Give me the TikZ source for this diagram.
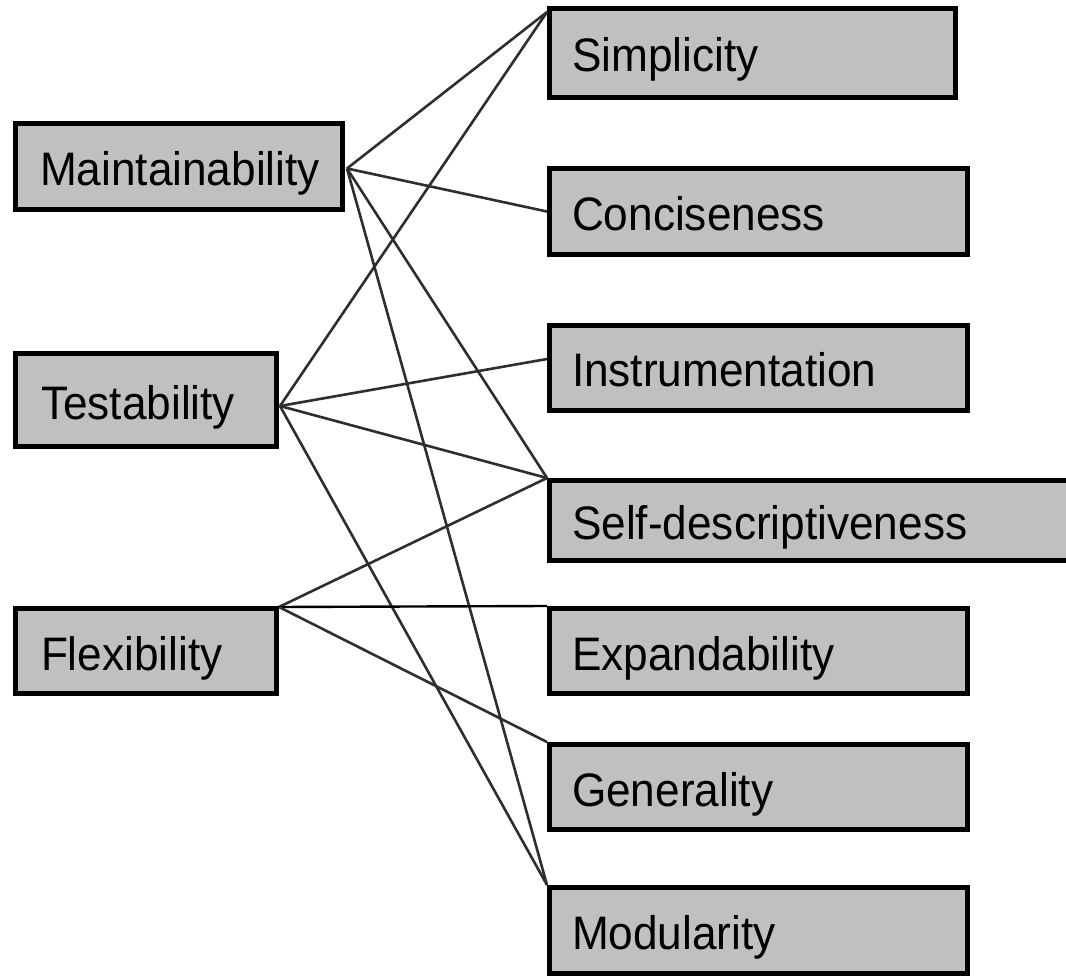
\documentclass[tikz,border=0pt]{standalone}
\usepackage{fontspec}
\newfontfamily\boxfont[FakeStretch=0.94]{Liberation Sans}
\usetikzlibrary{calc}
\definecolor{boxgray}{HTML}{C0C0C0}
\definecolor{linkgray}{HTML}{2E2E2E}
\tikzset{
  qbox/.style={draw=black, line width=5pt, fill=boxgray, rectangle,
    inner xsep=0pt, inner ysep=0pt, text height=38pt, text depth=0pt,
    align=left, font=\boxfont\fontsize{47}{50}\selectfont, text=black},
  link/.style={draw=linkgray, line width=2.6pt},
  hlink/.style={draw=black, line width=2.4pt},
}
\begin{document}
\begin{tikzpicture}[x=1pt,y=-1pt]
\useasboundingbox (0,0) rectangle (1066,976);
% left boxes
\node[qbox, minimum width=327pt, minimum height=86pt, text width=278pt] (M) at (179,166.5) {\mbox{Maintainability}};
\node[qbox, minimum width=261pt, minimum height=93pt, text width=210pt] (T) at (146,400) {\mbox{Testability}};
\node[qbox, minimum width=261pt, minimum height=85pt, text width=210pt] (F) at (146,651) {\mbox{Flexibility}};
% right boxes
\node[qbox, minimum width=406pt, minimum height=89pt, text width=361pt] (S) at (752.5,53) {\mbox{Simplicity}};
\node[qbox, minimum width=418pt, minimum height=86pt, text width=373pt] (C) at (758.5,211.5) {\mbox{Conciseness}};
\node[qbox, minimum width=418pt, minimum height=85pt, text width=373pt] (I) at (758.5,368) {\mbox{Instrumentation}};
\node[qbox, minimum width=528pt, minimum height=80pt, text width=483pt] (D) at (813.5,520.5) {\mbox{Self-descriptiveness}};
\node[qbox, minimum width=418pt, minimum height=85pt, text width=373pt] (E) at (758.5,651) {\mbox{Expandability}};
\node[qbox, minimum width=418pt, minimum height=85pt, text width=373pt] (G) at (758.5,787) {\mbox{Generality}};
\node[qbox, minimum width=418pt, minimum height=86pt, text width=373pt] (Mo) at (758.5,930.5) {\mbox{Modularity}};
% connection points
\coordinate (mA) at ($(M.east)+(2,2)$);
\coordinate (tA) at ($(T.east)+(1,6)$);
\coordinate (fA) at ($(F.north east)+(0,1)$);
\coordinate (sA) at ($(S.north west)+(0,6)$);
\coordinate (iA) at ($(I.north west)!0.4!(I.south west)$);
% connectors
\draw[link] (mA) -- (sA);
\draw[link] (mA) -- (C.west);
\draw[link] (mA) -- (D.north west);
\draw[link] (mA) -- (Mo.north west);
\draw[link] (tA) -- (sA);
\draw[link] (tA) -- (iA);
\draw[link] (tA) -- (D.north west);
\draw[link] (tA) -- (Mo.north west);
\draw[link] (fA) -- (D.north west);
\draw[hlink] (fA) -- (E.north west);
\draw[link] (fA) -- (G.north west);
\end{tikzpicture}
\end{document}
